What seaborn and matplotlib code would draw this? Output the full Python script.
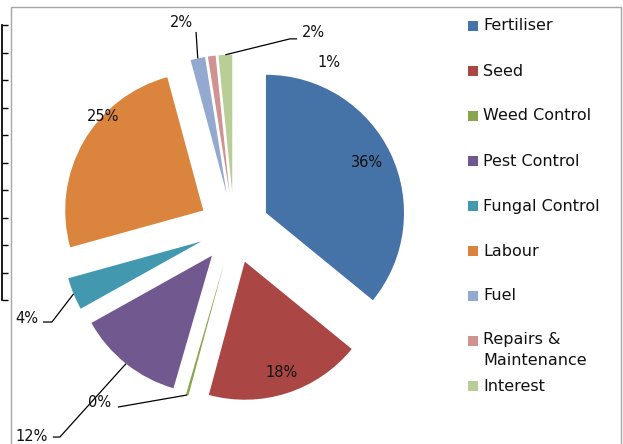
import matplotlib
matplotlib.use("Agg")
import numpy as np
import matplotlib.pyplot as plt
import seaborn as sns
from matplotlib.patches import Rectangle

# cost shares (percent)
categories = ["Fertiliser", "Seed", "Weed Control", "Pest Control", "Fungal Control",
              "Labour", "Fuel", "Repairs &\nMaintenance", "Interest"]
shares = [35.9, 18.3, 0.3, 12.4, 3.8, 25.1, 1.7, 0.9, 1.6]
colors = ["#4572A7", "#AA4643", "#89A54E", "#71588F", "#4198AF",
          "#DB843D", "#93A9CF", "#D19392", "#B9CD96"]

# label placement (data units, radius = 1)
label_xy = [(0.964, 0.471), (0.348, -1.044), (-0.971, -1.261), (-1.464, -1.507),
            (-1.50, -0.652), (-0.949, 0.804), (-0.384, 1.486), (0.688, 1.196),
            (0.572, 1.413)]
# leader line: (start, elbow) next to the label, None = no leader
leaders = [None, None, ((-0.841, -1.297), (-0.841, -1.297)),
           ((-1.312, -1.514), (-1.261, -1.514)),
           ((-1.384, -0.681), (-1.319, -0.681)), None,
           ((-0.275, 1.420), (-0.275, 1.420)), None,
           ((0.457, 1.370), (0.406, 1.370))]

sns.set_theme(style="white")
plt.rcParams['font.family'] = ['DejaVu Sans']
palette = sns.color_palette(colors)

fig = plt.figure(figsize=(6.23, 4.44), dpi=100)

# chart border
fig.patches.append(Rectangle((10.5 / 623, -0.05), 610 / 623, 1.05 - 7.5 / 444,
                             transform=fig.transFigure, fill=False,
                             edgecolor="#a6a6a6", lw=1.0))

# bit of a neighbouring chart's axis at the far left
side = fig.add_axes([1.5 / 623, 1 - 300 / 444, 0.002, 275 / 444])
side.set_ylim(0, 10)
side.set_yticks(range(11))
side.set_yticklabels([])
side.set_xticks([])
for s in ["top", "right", "bottom"]:
    side.spines[s].set_visible(False)
side.spines["left"].set_color("black")
side.tick_params(axis="y", direction="in", length=4, width=1, color="black", left=True)
side.patch.set_alpha(0)

ax = fig.add_axes([20 / 623, 2 / 444, 428 / 623, 428 / 444])
wedges, _ = ax.pie(shares, colors=palette, startangle=90, counterclock=False,
                   explode=[0.256] * len(shares), radius=1,
                   wedgeprops=dict(linewidth=0))
ax.set_xlim(-1.55, 1.55)
ax.set_ylim(-1.55, 1.55)
ax.set_aspect("equal")
ax.axis("off")

total = sum(shares)
for w, v, xy, ld in zip(wedges, shares, label_xy, leaders):
    ax.text(xy[0], xy[1], f"{v / total * 100:.0f}%", ha="center", va="center",
            fontsize=10.5, color="#111111")
    if ld is None:
        continue
    # leader goes to the middle of the wedge's outer arc
    mid = np.deg2rad((w.theta1 + w.theta2) / 2)
    cx, cy = w.center
    tx, ty = cx + w.r * np.cos(mid), cy + w.r * np.sin(mid)
    (sx, sy), (ex, ey) = ld
    ax.plot([sx, ex, tx], [sy, ey, ty], color="black", lw=0.9,
            solid_capstyle="butt", clip_on=False)

# legend by hand, to keep Excel's fixed slot spacing
for i, (name, c) in enumerate(zip(categories, palette)):
    y = 1 - (26 + 45 * i) / 444
    fig.patches.append(Rectangle((468 / 623, y - 5 / 444), 10 / 623, 10 / 444,
                                 transform=fig.transFigure, facecolor=c, lw=0))
    if "\n" in name:
        fig.text(483 / 623, y + 9 / 444, name, ha="left", va="top",
                 fontsize=11.5, color="#111111", linespacing=1.5)
    else:
        fig.text(483 / 623, y, name, ha="left", va="center",
                 fontsize=11.5, color="#111111")

fig.savefig("out.png", dpi=100)
